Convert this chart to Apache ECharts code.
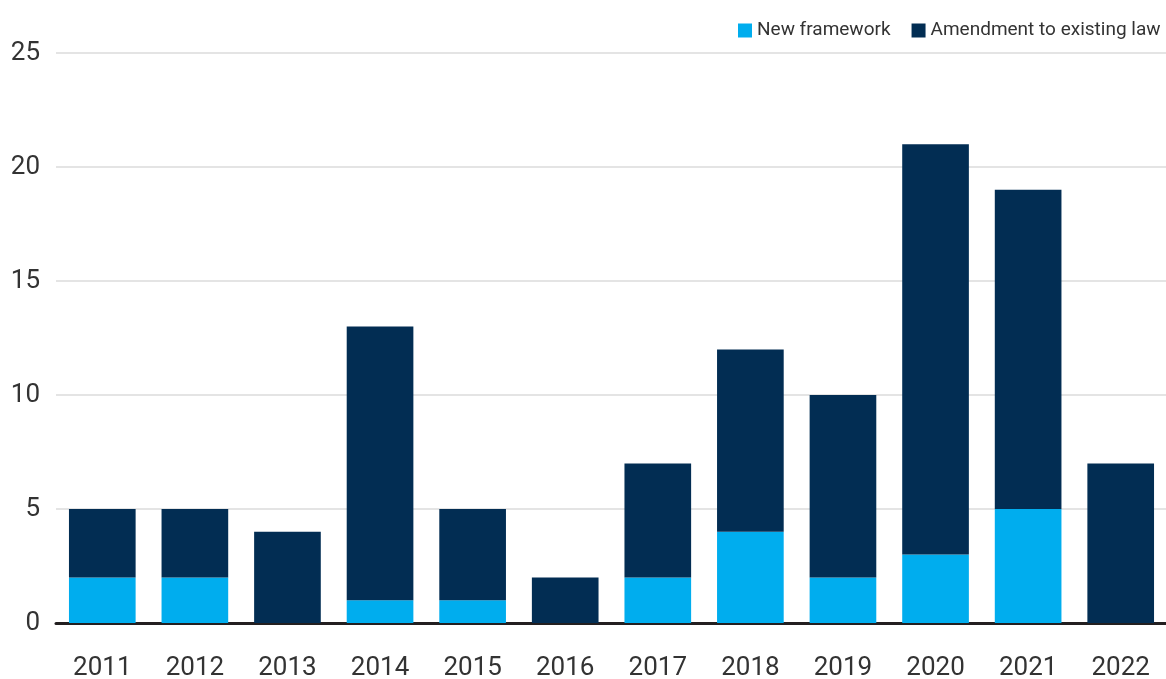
<!DOCTYPE html>
<html>
<head>
<meta charset="UTF-8">
<title></title>
<style>
	html,body{ margin:0px; height:100%; background:#fff; }
	#main { width:1166px; height:679px; }
</style>
</head>
<body>
<div id="main"></div>
<script src="https://cdn.jsdelivr.net/npm/echarts@6/dist/echarts.min.js"></script>
<script>
var years = ['2011','2012','2013','2014','2015','2016','2017','2018','2019','2020','2021','2022'];
var newFramework = [2, 2, 0, 1, 1, 0, 2, 4, 2, 3, 5, 0];
var amendment = [3, 3, 4, 12, 4, 2, 5, 8, 8, 18, 14, 7];
var yTicks = [0, 5, 10, 15, 20, 25];

var chart = echarts.init(document.getElementById('main'));
var font = 'Roboto, "Liberation Sans", sans-serif';

chart.setOption({
	animation: false,
	legend: {
		orient: 'horizontal',
		left: 733,
		top: 16,
		width: 700,
		itemWidth: 14,
		itemHeight: 14,
		itemGap: 21,
		icon: 'rect',
		textStyle: { color: '#333', fontSize: 19, fontFamily: font },
		data: ['New framework', 'Amendment to existing law']
	},
	grid: { left: 56, right: -1, top: 53, bottom: 56, containLabel: false, outerBoundsMode: 'none' },
	xAxis: {
		type: 'category',
		data: years,
		axisTick: { show: false },
		axisLine: { lineStyle: { color: '#231f20', width: 3 } },
		axisLabel: { color: '#333', fontSize: 26, fontFamily: font, margin: 32 }
	},
	yAxis: {
		type: 'value',
		min: yTicks[0],
		max: yTicks[yTicks.length - 1],
		interval: 5,
		axisLine: { show: false },
		axisTick: { show: false },
		splitLine: { lineStyle: { color: '#e4e4e4', width: 2 } },
		axisLabel: { color: '#333', fontSize: 26, fontFamily: font, margin: 16 }
	},
	series: [
		{
			name: 'New framework',
			type: 'bar',
			stack: 'total',
			barCategoryGap: '28%',
			itemStyle: { color: '#00adee' },
			data: newFramework
		},
		{
			name: 'Amendment to existing law',
			type: 'bar',
			stack: 'total',
			barCategoryGap: '28%',
			itemStyle: { color: '#022d53' },
			data: amendment
		}
	]
});
</script>
</body>
</html>
